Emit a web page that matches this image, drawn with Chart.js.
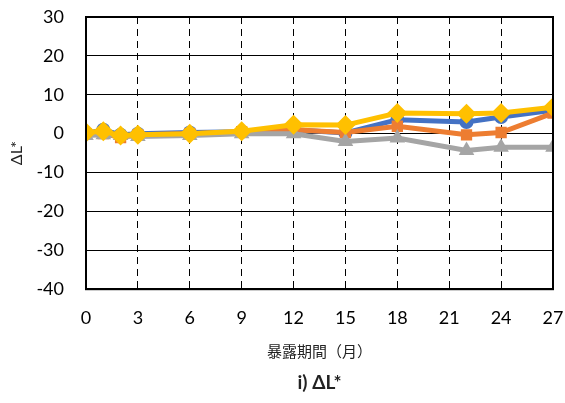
<!DOCTYPE html>
<html lang="ja">
<head>
<meta charset="UTF-8">
<title>ΔL*</title>
<script src="https://cdn.jsdelivr.net/npm/chart.js"></script>
<style>
  body { margin: 0; background: #fff; }
</style>
</head>
<body>
<canvas id="myChart" width="565" height="403"></canvas>
<script>
  // 暴露期間（月）
  const months = [0, 1, 2, 3, 6, 9, 12, 15, 18, 22, 24, 27];
  const blueVals   = [0, 1.0, -0.3, 0, 0.3, 0.5, 1.0, 0.2, 3.6, 3.0, 4.3, 6.0];
  const orangeVals = [0, 0, -1.0, -0.3, 0, 0.5, 1.0, 0.3, 1.9, -0.3, 0.3, 5.3];
  const grayVals   = [-0.5, -0.3, -0.5, -0.7, -0.5, 0, 0, -2.0, -1.1, -4.3, -3.5, -3.5];
  const yellowVals = [0.3, 0.6, -0.5, -0.3, 0, 0.6, 2.3, 2.2, 5.3, 5.1, 5.3, 6.8];
  const xTicks = [0, 3, 6, 9, 12, 15, 18, 21, 24, 27];

  const numFont = "Lato, 'Open Sans', sans-serif";
  const jpFont = "'Noto Sans CJK JP', 'Noto Sans', sans-serif";

  function pts(vals) {
    return months.map((m, i) => ({ x: m, y: vals[i] }));
  }

  function series(vals, color, style, size) {
    return {
      data: pts(vals),
      borderColor: color,
      backgroundColor: color,
      borderWidth: 5,
      pointStyle: style,
      pointRadius: size,
      pointBorderWidth: 0,
      tension: 0
    };
  }

  // frame around plot area
  const boxPlugin = {
    id: 'box',
    afterDraw(chart) {
      const a = chart.chartArea, ctx = chart.ctx;
      ctx.save();
      ctx.strokeStyle = '#000';
      ctx.lineWidth = 2;
      ctx.strokeRect(a.left, a.top, a.right - a.left, a.bottom - a.top);
      ctx.restore();
    }
  };

  const ctx = document.getElementById('myChart').getContext('2d');
  new Chart(ctx, {
    type: 'line',
    data: {
      datasets: [
        series(blueVals, '#4472C4', 'circle', 7),
        series(orangeVals, '#ED7D31', 'rect', 8),
        series(grayVals, '#A5A5A5', 'triangle', 9),
        series(yellowVals, '#FFC000', 'rectRot', 10)
      ].reverse().map((d, i) => Object.assign(d, { order: i }))
    },
    options: {
      responsive: false,
      animation: false,
      layout: { padding: { left: 0, right: 12, top: 17, bottom: 9 } },
      plugins: {
        legend: { display: false },
        tooltip: { enabled: false },
        title: {
          display: true,
          position: 'bottom',
          fullSize: false,
          text: 'i) ΔL*',
          color: '#222',
          font: { family: numFont, size: 19, weight: 'bold' },
          padding: { top: 3, bottom: 0 }
        }
      },
      scales: {
        x: {
          type: 'linear',
          min: 0,
          max: 27,
          afterBuildTicks(axis) { axis.ticks = xTicks.map(v => ({ value: v })); },
          afterFit(axis) {
            axis.height = 79;
            axis.paddingLeft = 0;
            axis.paddingRight = 0;
          },
          ticks: { color: '#000', font: { family: numFont, size: 18 }, padding: 18 },
          grid: { color: '#000', lineWidth: 1, drawTicks: false },
          border: { display: true, color: '#000', width: 2, dash: [7, 5] },
          title: {
            display: true,
            text: '暴露期間（月）',
            color: '#222',
            font: { family: jpFont, size: 15 },
            padding: { top: 0, bottom: 8 }
          }
        },
        y: {
          min: -40,
          max: 30,
          afterFit(axis) {
            axis.width = 86;
            axis.paddingTop = 0;
            axis.paddingBottom = 0;
          },
          ticks: { stepSize: 10, color: '#000', font: { family: numFont, size: 18 }, padding: 22 },
          grid: { color: '#000', lineWidth: 1, drawTicks: false },
          border: { display: true, color: '#000', width: 2 },
          title: {
            display: true,
            text: 'ΔL*',
            color: '#222',
            font: { family: numFont, size: 16 },
            padding: { top: 7, bottom: 0 }
          }
        }
      }
    },
    plugins: [boxPlugin]
  });
</script>
</body>
</html>
